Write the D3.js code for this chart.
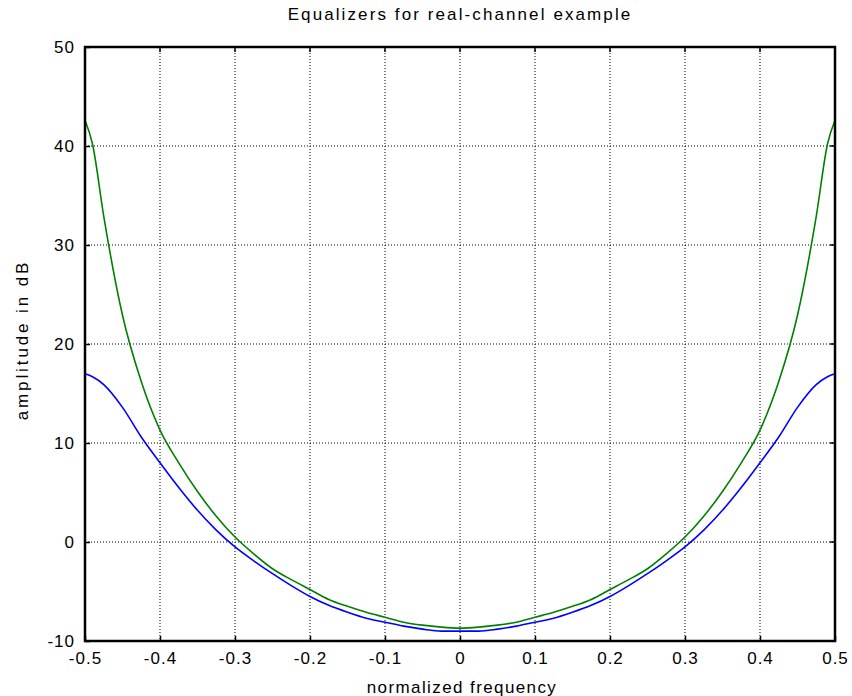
<!DOCTYPE html>
<html>
<head>
<meta charset="utf-8">
<script src="https://cdn.jsdelivr.net/npm/d3@7"></script>
<style>
  body { margin: 0; background: #fff; }
  svg text { font-family: "Liberation Sans", Arial, sans-serif; fill: #000; }
</style>
</head>
<body>
<div id="chart"></div>
<script>
// normalized frequency samples
var freq = [-0.5, -0.49, -0.475, -0.45, -0.425, -0.4, -0.375, -0.35, -0.325, -0.3, -0.275, -0.25,
    -0.225, -0.2, -0.175, -0.15, -0.125, -0.1, -0.075, -0.05, -0.025, 0,
    0.025, 0.05, 0.075, 0.1, 0.125, 0.15, 0.175, 0.2, 0.225, 0.25, 0.275, 0.3,
    0.325, 0.35, 0.375, 0.4, 0.425, 0.45, 0.475, 0.49, 0.5];

// amplitude in dB
var blueEq = [17.0, 16.7, 15.9, 13.6, 10.6, 8.0, 5.5, 3.2, 1.2, -0.5, -1.9, -3.2,
    -4.4, -5.5, -6.4, -7.1, -7.7, -8.1, -8.5, -8.8, -9.0, -9.0,
    -9.0, -8.8, -8.5, -8.1, -7.7, -7.1, -6.4, -5.5, -4.4, -3.2, -1.9, -0.5,
    1.2, 3.2, 5.5, 8.0, 10.6, 13.6, 15.9, 16.7, 17.0];

var greenEq = [42.6, 40.2, 32.9, 22.9, 16.2, 11.3, 8.0, 5.1, 2.6, 0.5, -1.2, -2.7,
    -3.8, -4.8, -5.8, -6.5, -7.1, -7.6, -8.1, -8.4, -8.6, -8.7,
    -8.6, -8.4, -8.1, -7.6, -7.1, -6.5, -5.8, -4.8, -3.8, -2.7, -1.2, 0.5,
    2.6, 5.1, 8.0, 11.3, 16.2, 22.9, 32.9, 40.2, 42.6];

var xTicks = [-0.5, -0.4, -0.3, -0.2, -0.1, 0, 0.1, 0.2, 0.3, 0.4, 0.5];
var yTicks = [-10, 0, 10, 20, 30, 40, 50];

var width = 852,
    height = 696,
    margin = {top: 47, right: 17, bottom: 55, left: 85};

var innerW = width - margin.left - margin.right,
    innerH = height - margin.top - margin.bottom;

// plain hyphen for negatives, like the original
var locale = d3.formatLocale({decimal: ".", thousands: ",", grouping: [3], currency: ["", ""], minus: "-"});

var svg = d3.select("#chart")
    .append("svg")
    .attr("width", width)
    .attr("height", height);

var g = svg.append("g")
    .attr("transform", "translate(" + margin.left + "," + margin.top + ")");

var x = d3.scaleLinear().domain([-0.5, 0.5]).range([0, innerW]);
var y = d3.scaleLinear().domain([-10, 50]).range([innerH, 0]);

// dotted grid
g.selectAll(".vgrid")
    .data(xTicks.slice(1, -1))
    .enter()
    .append("line")
    .attr("x1", d => x(d)).attr("x2", d => x(d))
    .attr("y1", 0).attr("y2", innerH)
    .attr("stroke", "#000")
    .attr("stroke-width", 1)
    .attr("stroke-dasharray", "1,2");

g.selectAll(".hgrid")
    .data(yTicks.slice(1, -1))
    .enter()
    .append("line")
    .attr("x1", 0).attr("x2", innerW)
    .attr("y1", d => y(d)).attr("y2", d => y(d))
    .attr("stroke", "#000")
    .attr("stroke-width", 1)
    .attr("stroke-dasharray", "1,2");

// curves
var line = d3.line()
    .x((d, i) => x(freq[i]))
    .y(d => y(d))
    .curve(d3.curveMonotoneX);

g.append("path")
    .datum(greenEq)
    .attr("d", line)
    .attr("fill", "none")
    .attr("stroke", "#008000")
    .attr("stroke-width", 1.6);

g.append("path")
    .datum(blueEq)
    .attr("d", line)
    .attr("fill", "none")
    .attr("stroke", "#0000ff")
    .attr("stroke-width", 1.6);

// axes with inward ticks
var xAxis = d3.axisBottom(x).tickValues(xTicks).tickSizeInner(-5).tickSizeOuter(0)
    .tickPadding(11).tickFormat(d => d === 0 ? "0" : locale.format(".1f")(d));
var yAxis = d3.axisLeft(y).tickValues(yTicks).tickSizeInner(-5).tickSizeOuter(0)
    .tickPadding(10).tickFormat(locale.format("d"));

var gx = g.append("g").attr("transform", "translate(0," + innerH + ")").call(xAxis);
var gy = g.append("g").call(yAxis);

[gx, gy].forEach(function(a) {
    a.select(".domain").remove();
    a.selectAll("line").attr("stroke", "#000").attr("stroke-width", 1.5);
    a.selectAll("text")
        .style("font-size", "17px")
        .style("letter-spacing", "1px")
        .attr("fill", "#000");
});

// opposite-side ticks
g.selectAll(".topTick")
    .data(xTicks)
    .enter()
    .append("line")
    .attr("x1", d => x(d)).attr("x2", d => x(d))
    .attr("y1", 0).attr("y2", 5)
    .attr("stroke", "#000").attr("stroke-width", 1.5);

g.selectAll(".rightTick")
    .data(yTicks)
    .enter()
    .append("line")
    .attr("x1", innerW - 5).attr("x2", innerW)
    .attr("y1", d => y(d)).attr("y2", d => y(d))
    .attr("stroke", "#000").attr("stroke-width", 1.5);

// frame
g.append("rect")
    .attr("width", innerW)
    .attr("height", innerH)
    .attr("fill", "none")
    .attr("stroke", "#000")
    .attr("stroke-width", 2.5);

// titles
svg.append("text")
    .attr("x", 460)
    .attr("y", 20)
    .attr("text-anchor", "middle")
    .style("font-size", "17px")
    .style("letter-spacing", "2.1px")
    .text("Equalizers for real-channel example");

svg.append("text")
    .attr("x", 462)
    .attr("y", 693)
    .attr("text-anchor", "middle")
    .style("font-size", "17px")
    .style("letter-spacing", "1.4px")
    .text("normalized frequency");

svg.append("text")
    .attr("transform", "translate(28,340) rotate(-90)")
    .attr("text-anchor", "middle")
    .style("font-size", "17px")
    .style("letter-spacing", "2.9px")
    .text("amplitude in dB");
</script>
</body>
</html>
